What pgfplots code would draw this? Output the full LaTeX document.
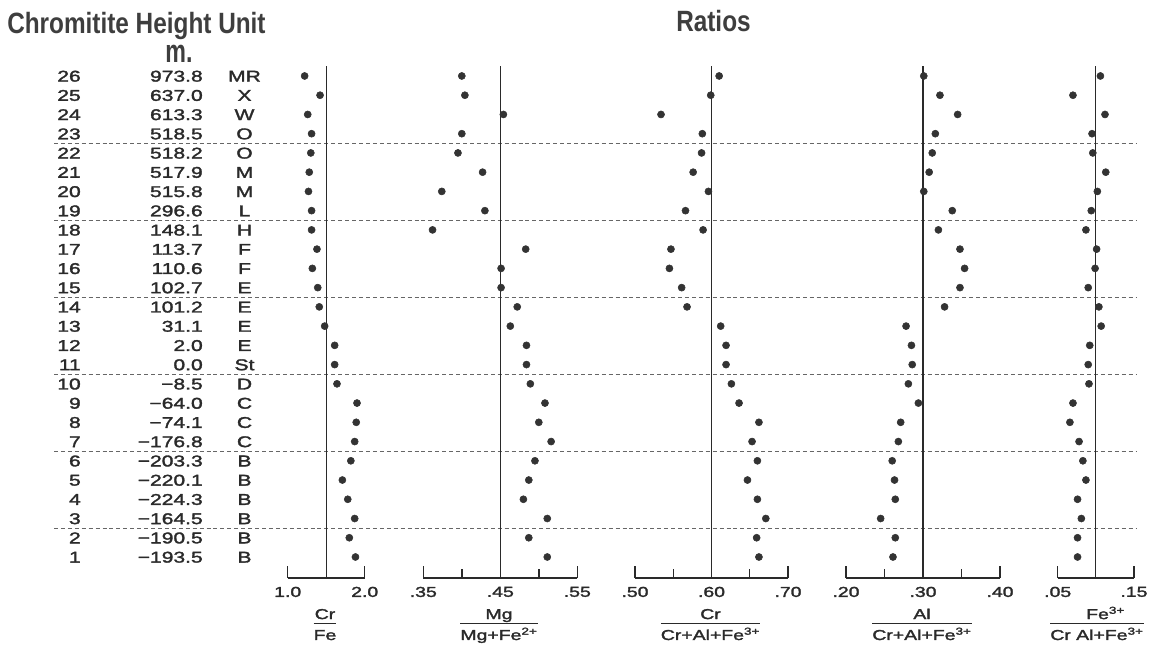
\documentclass[border=0pt]{standalone}
\usepackage{fontspec}
\setmainfont{Liberation Sans}[FakeStretch=1.35, FakeBold=2]
\newfontfamily\hfont{Liberation Sans}[FakeStretch=0.83]
\usepackage{graphicx}
\usepackage{pgfplots}
\usepackage{pgfplotstable}
\pgfplotsset{compat=1.18}

\definecolor{ink}{HTML}{2A2A2A}
\definecolor{head}{HTML}{3E3E3E}
\definecolor{dot}{HTML}{333333}
\definecolor{dashc}{HTML}{666666}

\setlength\arrayrulewidth{0.9pt}
\newcommand\frc[2]{\begin{tabular}[b]{@{}c@{}}#1\\[-1pt]\hline\rule{0pt}{12pt}#2\end{tabular}}

% chromitite no., height (m), unit
\pgfplotstableread{
n  h       u
26 973.8   MR
25 637.0   X
24 613.3   W
23 518.5   O
22 518.2   O
21 517.9   M
20 515.8   M
19 296.6   L
18 148.1   H
17 113.7   F
16 110.6   F
15 102.7   E
14 101.2   E
13 31.1    E
12 2.0     E
11 0.0     St
10 −8.5    D
9  −64.0   C
8  −74.1   C
7  −176.8  C
6  −203.3  B
5  −220.1  B
4  −224.3  B
3  −164.5  B
2  −190.5  B
1  −193.5  B
}\chromtab

% ratios: Cr/Fe, Mg/(Mg+Fe2+), Cr/(Cr+Al+Fe3+), Al/(..), Fe3+/(..)
\pgfplotstableread{
n  crfe  mg    cr    al    fe
26 1.22  .400  .610  .301  .106
25 1.42  .404  .599  .322  .070
24 1.26  .454  .534  .345  .112
23 1.31  .400  .588  .316  .095
22 1.30  .395  .587  .312  .096
21 1.28  .427  .576  .308  .113
20 1.27  .374  .596  .301  .102
19 1.31  .430  .566  .338  .094
18 1.31  .362  .589  .320  .087
17 1.38  .483  .547  .348  .101
16 1.32  .451  .545  .354  .099
15 1.39  .451  .561  .348  .090
14 1.41  .472  .568  .328  .104
13 1.48  .463  .612  .278  .107
12 1.61  .484  .619  .285  .092
11 1.61  .484  .619  .286  .090
10 1.64  .489  .626  .281  .091
9  1.90  .508  .636  .294  .070
8  1.89  .500  .662  .271  .066
7  1.87  .516  .653  .268  .078
6  1.82  .495  .660  .260  .083
5  1.71  .487  .647  .263  .087
4  1.78  .480  .660  .264  .076
3  1.87  .511  .671  .245  .081
2  1.80  .487  .659  .264  .076
1  1.88  .511  .662  .261  .076
}\ratios

\pgfplotsset{
  panel/.style={
    scale only axis, anchor=south west,
    width=#1, height=383.85pt,
    ymin=-0.1, ymax=26.5,
    axis x line*=bottom, axis y line=none,
    x axis line style={ink, line width=1.1pt},
    tick align=inside,
    major tick length=9pt, minor tick length=6.5pt,
    tick style={ink, line width=1.1pt},
    xticklabel style={font=\fontsize{10.8}{12}\selectfont, text=ink, yshift=-3pt},
    clip=false,
  },
  dots/.style={only marks, mark=*, mark size=2.65pt, mark options={fill=dot, draw=dot}},
  vline/.style={draw=ink, line width=0.9pt, mark=none},
  col/.style={draw=none, mark=none, nodes near coords={\pgfplotspointmeta},
    point meta=explicit symbolic,
    every node near coord/.style={anchor=#1, inner sep=0pt, yshift=-4.2pt,
      text=ink, font=\fontsize{11.7}{13}\selectfont}},
}

\begin{document}
\begin{tikzpicture}
\useasboundingbox (0,0) rectangle (867pt,483.75pt);

\begin{axis}[name=bg, at={(0,0)}, anchor=south west, scale only axis,
  width=867pt, height=483.75pt,
  xmin=0, xmax=1156, ymin=-3.5738, ymax=29.9501,
  hide axis, clip=false]

\pgfplotsinvokeforeach{22.5,18.5,14.5,10.5,6.5,2.5}{
  \addplot[draw=dashc, line width=0.6pt, dash pattern=on 3pt off 2.2pt] coordinates {(54,#1) (1136,#1)};
}

\addplot[col=base east] table[x expr=81, y=n, meta=n] {\chromtab};
\addplot[col=base east] table[x expr=203, y=n, meta=h] {\chromtab};
\addplot[col=base] table[x expr=244.5, y=n, meta=u] {\chromtab};

\node[anchor=base west, inner sep=0pt, text=head, font=\hfont\bfseries\fontsize{22}{26}\selectfont]
  at (axis cs:7,28.22) {Chromitite Height Unit};
\node[anchor=base, inner sep=0pt, text=head, font=\hfont\bfseries\fontsize{21}{24}\selectfont]
  at (axis cs:179,26.68) {\scalebox{1}[1.15]{m.}};
\node[anchor=base west, inner sep=0pt, text=head, font=\hfont\bfseries\fontsize{22}{26}\selectfont]
  at (axis cs:676,28.29) {Ratios};

\begin{scope}[every node/.style={anchor=base, inner sep=0pt, text=ink, font=\fontsize{10.8}{12.6}\selectfont}]
\node at (axis cs:325,-3.314) {\frc{Cr}{Fe}};
\node at (axis cs:499,-3.314) {\frc{Mg}{Mg+Fe\textsuperscript{2+}}};
\node at (axis cs:710.5,-3.314) {\frc{Cr}{Cr+Al+Fe\textsuperscript{3+}}};
\node at (axis cs:922,-3.314) {\frc{Al}{Cr+Al+Fe\textsuperscript{3+}}};
\node at (axis cs:1097,-3.314) {\frc{\hspace*{1.2em}Fe\textsuperscript{3+}}{Cr Al+Fe\textsuperscript{3+}}};
\end{scope}

\coordinate (a1) at (axis cs:287.7,-0.1);
\coordinate (a2) at (axis cs:423.3,-0.1);
\coordinate (a3) at (axis cs:635,-0.1);
\coordinate (a4) at (axis cs:846,-0.1);
\coordinate (a5) at (axis cs:1057.7,-0.1);
\end{axis}

\begin{axis}[panel=57.75pt, at={(a1)}, xmin=1, xmax=2,
  xtick={1,2}, xticklabels={1.0,2.0}]
\addplot[vline] coordinates {(1.5,-0.1) (1.5,26.5)};
\addplot[dots] table[x=crfe, y=n] {\ratios};
\end{axis}

\begin{axis}[panel=115.5pt, at={(a2)}, xmin=0.35, xmax=0.55,
  xtick={0.35,0.45,0.55}, xticklabels={.35,.45,.55}, minor xtick={0.40,0.50}]
\addplot[vline] coordinates {(0.45,-0.1) (0.45,26.5)};
\addplot[dots] table[x=mg, y=n] {\ratios};
\end{axis}

\begin{axis}[panel=114.75pt, at={(a3)}, xmin=0.50, xmax=0.70,
  xtick={0.50,0.60,0.70}, xticklabels={.50,.60,.70}, minor xtick={0.55,0.65}]
\addplot[vline] coordinates {(0.60,-0.1) (0.60,26.5)};
\addplot[dots] table[x=cr, y=n] {\ratios};
\end{axis}

\begin{axis}[panel=115.5pt, at={(a4)}, xmin=0.20, xmax=0.40,
  xtick={0.20,0.30,0.40}, xticklabels={.20,.30,.40}, minor xtick={0.25,0.35}]
\addplot[vline] coordinates {(0.30,-0.1) (0.30,26.5)};
\addplot[dots] table[x=al, y=n] {\ratios};
\end{axis}

\begin{axis}[panel=57.2pt, at={(a5)}, xmin=0.05, xmax=0.15,
  xtick={0.05,0.15}, xticklabels={.05,.15}]
\addplot[vline] coordinates {(0.10,-0.1) (0.10,26.5)};
\addplot[dots] table[x=fe, y=n] {\ratios};
\end{axis}
\end{tikzpicture}
\end{document}
